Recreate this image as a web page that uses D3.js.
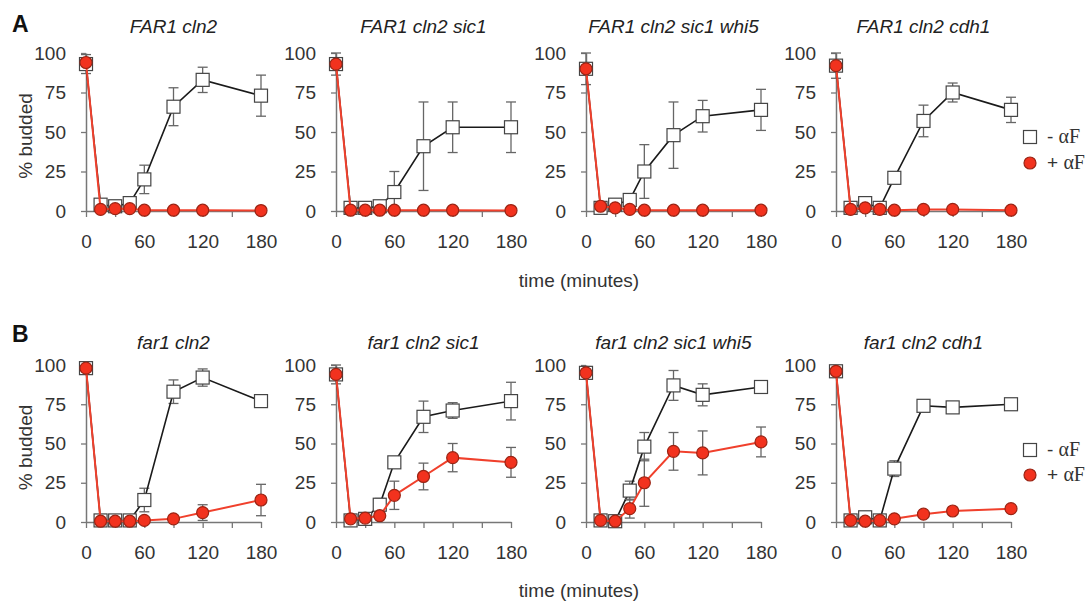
<!DOCTYPE html>
<html>
<head>
<meta charset="utf-8">
<script src="https://cdn.jsdelivr.net/npm/d3@7"></script>
<style>
  body { margin: 0; background: #fff; }
  svg { font-family: "Liberation Sans", Arial, sans-serif; }
  .tick text { fill: #333; font-size: 19px; }
</style>
</head>
<body>
<div id="chart"></div>
<script>
// time points (minutes)
const times = [0, 15, 30, 45, 60, 90, 120, 180];
const xTicks = [0, 30, 60, 90, 120, 150, 180];
const xLabels = [0, 60, 120, 180];
const yTicks = [0, 25, 50, 75, 100];

const rowLetters = ["A", "B"];
const titles = [
  ["FAR1 cln2", "FAR1 cln2 sic1", "FAR1 cln2 sic1 whi5", "FAR1 cln2 cdh1"],
  ["far1 cln2", "far1 cln2 sic1", "far1 cln2 sic1 whi5", "far1 cln2 cdh1"]
];

// - alpha factor (open squares), % budded
const minusAF = [
  [93, 4, 3, 5, 20, 66, 83, 73],
  [93, 2, 2, 3, 12, 41, 53, 53],
  [90, 2, 4, 7, 25, 48, 60, 64],
  [92, 2, 5, 2, 21, 57, 75, 64],
  [98, 1, 1, 1, 14, 83, 92, 77],
  [94, 1, 2, 11, 38, 67, 71, 77],
  [95, 1, 0.5, 20, 48, 87, 81, 86],
  [96, 1, 3, 1, 34, 74, 73, 75]
];
const minusErr = [
  [6, 2, 2, 2, 9, 12, 8, 13],
  [7, 1, 1, 1, 13, 28, 16, 16],
  [10, 1, 2, 2, 17, 21, 10, 13],
  [8, 1, 2, 1, 2, 10, 6, 8],
  [2, 1, 1, 1, 7.5, 7.5, 5.5, 3],
  [6, 1, 1, 4, 2, 10, 5, 12],
  [4, 0, 0, 6, 9, 9.5, 7, 2],
  [3, 0, 1, 0, 5, 3, 1, 2]
];

// + alpha factor (red circles), % budded
const plusAF = [
  [94, 1, 1.5, 1.5, 0.5, 0.5, 0.5, 0.3],
  [93, 0.5, 0.5, 0.5, 0.5, 0.5, 0.5, 0.3],
  [90, 3, 2, 1, 0.5, 0.5, 0.5, 0.5],
  [92, 1, 2, 1, 0.5, 1, 1, 0.5],
  [98, 0.5, 0.5, 0.5, 1, 2, 6, 14],
  [94, 2, 2.5, 4, 17, 29, 41, 38],
  [95, 1, 0.5, 8.5, 25, 45, 44, 51],
  [96, 1, 0.5, 1, 2, 5, 7, 8.5]
];
const plusErr = [
  [0, 0, 0, 0, 0, 0, 0, 0],
  [0, 0, 0, 0, 0, 0, 0, 0],
  [0, 0, 0, 0, 0, 0, 0, 0],
  [0, 0, 0, 0, 0, 0, 0, 0],
  [0, 0, 0, 0, 0, 0, 5, 10],
  [0, 0, 0, 0, 9, 8.5, 9, 9.5],
  [0, 0, 0, 6, 15, 12, 14, 9.5],
  [0, 0, 0, 0, 0, 1, 1, 1]
];

const legendLabels = [["- ", "\u03b1F"], ["+ ", "\u03b1F"]];

const width = 1089, height = 603;
const panelLeft = [86, 336, 586, 836];
const panelW = 175;
const rowTop = [53, 365], rowBottom = [211, 522];
const red = "#f2321e", redStroke = "#9a2414", redLine = "#f0402c";

const svg = d3.select("#chart").append("svg")
  .attr("width", width).attr("height", height);

function drawPanel(r, c) {
  const k = r * 4 + c;
  const x = d3.scaleLinear().domain([0, 180]).range([panelLeft[c], panelLeft[c] + panelW]);
  const y = d3.scaleLinear().domain([0, 100]).range([rowBottom[r], rowTop[r]]);
  const g = svg.append("g");

  // axes
  const xAxis = g.append("g")
    .attr("transform", "translate(0," + rowBottom[r] + ")")
    .call(d3.axisBottom(x).tickValues(xTicks).tickSize(6).tickSizeOuter(0).tickPadding(18)
      .tickFormat(d => xLabels.includes(d) ? d : ""));
  const yAxis = g.append("g")
    .attr("transform", "translate(" + panelLeft[c] + ",0)")
    .call(d3.axisLeft(y).tickValues(yTicks).tickSize(5).tickSizeOuter(0).tickPadding(15));
  [xAxis, yAxis].forEach(a => {
    a.select(".domain").attr("stroke", "#777").attr("stroke-width", 1.5);
    a.selectAll(".tick line").attr("stroke", "#777").attr("stroke-width", 1.3);
  });

  // title
  g.append("text")
    .attr("x", panelLeft[c] + panelW / 2)
    .attr("y", r === 0 ? 33 : 349)
    .attr("text-anchor", "middle")
    .style("font-size", "19px").style("font-style", "italic").attr("fill", "#222")
    .text(titles[r][c]);

  function series(vals, errs, isRed) {
    const pts = times.map((t, i) => ({t: t, v: vals[i], e: errs[i]}));
    // error bars
    const eb = g.append("g").attr("stroke", "#666").attr("stroke-width", 1.3);
    pts.filter(d => d.e > 0).forEach(d => {
      const top = Math.min(100, d.v + d.e), bot = Math.max(0, d.v - d.e);
      eb.append("line").attr("x1", x(d.t)).attr("x2", x(d.t)).attr("y1", y(top)).attr("y2", y(bot));
      eb.append("line").attr("x1", x(d.t) - 5).attr("x2", x(d.t) + 5).attr("y1", y(top)).attr("y2", y(top));
      eb.append("line").attr("x1", x(d.t) - 5).attr("x2", x(d.t) + 5).attr("y1", y(bot)).attr("y2", y(bot));
    });
    g.append("path").datum(pts)
      .attr("fill", "none")
      .attr("stroke", isRed ? redLine : "#1a1a1a")
      .attr("stroke-width", isRed ? 2 : 1.6)
      .attr("d", d3.line().x(d => x(d.t)).y(d => y(d.v)));
    if (isRed) {
      g.selectAll(null).data(pts).enter().append("circle")
        .attr("cx", d => x(d.t)).attr("cy", d => y(d.v)).attr("r", 6)
        .attr("fill", red).attr("stroke", redStroke).attr("stroke-width", 1.2);
    } else {
      g.selectAll(null).data(pts).enter().append("rect")
        .attr("x", d => x(d.t) - 6.5).attr("y", d => y(d.v) - 6.5)
        .attr("width", 13).attr("height", 13)
        .attr("fill", "#fff").attr("stroke", "#444").attr("stroke-width", 1.2);
    }
  }
  series(minusAF[k], minusErr[k], false);
  series(plusAF[k], plusErr[k], true);
}

for (let r = 0; r < 2; r++) {
  for (let c = 0; c < 4; c++) drawPanel(r, c);

  // row letter
  svg.append("text")
    .attr("x", 12).attr("y", r === 0 ? 32 : 342)
    .style("font-size", "23px").style("font-weight", "bold").attr("fill", "#111")
    .text(rowLetters[r]);

  // y label
  const cy = (rowTop[r] + rowBottom[r]) / 2 + 4;
  svg.append("text")
    .attr("transform", "translate(32," + cy + ") rotate(-90)")
    .attr("text-anchor", "middle")
    .style("font-size", "19px").attr("fill", "#333")
    .text("% budded");

  // x label
  svg.append("text")
    .attr("x", 579).attr("y", r === 0 ? 287 : 597)
    .attr("text-anchor", "middle")
    .style("font-size", "19px").attr("fill", "#333")
    .text("time (minutes)");

  // legend
  const ly = r === 0 ? [137, 163] : [450, 475];
  svg.append("rect").attr("x", 1023.5).attr("y", ly[0] - 6.5).attr("width", 13).attr("height", 13)
    .attr("fill", "#fff").attr("stroke", "#444").attr("stroke-width", 1.2);
  svg.append("circle").attr("cx", 1030).attr("cy", ly[1]).attr("r", 6)
    .attr("fill", red).attr("stroke", redStroke).attr("stroke-width", 1.2);
  legendLabels.forEach((lab, i) => {
    const t = svg.append("text").attr("x", 1047).attr("y", ly[i] + 6)
      .style("font-size", "19px").attr("fill", "#333");
    t.append("tspan").text(lab[0]);
    t.append("tspan").style("font-family", "'Liberation Serif', 'Times New Roman', serif")
      .style("font-size", "20px").text(lab[1]);
  });
}
</script>
</body>
</html>
